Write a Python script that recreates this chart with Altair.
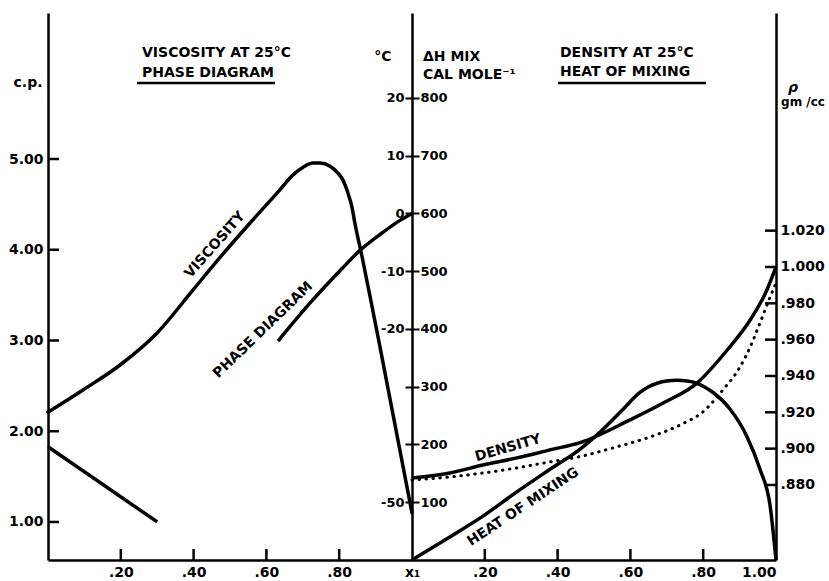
import altair as alt
import pandas as pd

# ---------------- data (mole fraction x1 on every curve) ----------------
# Viscosity at 25 °C, centipoise
visc_x = [0.0, 0.096, 0.198, 0.299, 0.398, 0.464, 0.555, 0.637, 0.673, 0.701,
          0.728, 0.747, 0.775, 0.794, 0.810, 0.824, 0.835, 0.843, 0.863, 0.885,
          0.912, 1.0]
visc_cp = [2.21, 2.455, 2.73, 3.08, 3.555, 3.875, 4.295, 4.66, 4.825, 4.91,
           4.955, 4.955, 4.92, 4.855, 4.77, 4.625, 4.47, 4.295, 3.92, 3.48,
           2.93, 1.10]

# Phase diagram, freezing temperature in °C (two branches)
phase_hi_x = [0.632, 0.72, 0.81, 0.857, 0.912, 0.967, 1.0]
phase_hi_t = [-22.1, -15.5, -9.4, -6.4, -3.65, -1.2, 0.0]
phase_lo_x = [0.0, 0.30]
phase_lo_t = [-40.4, -53.4]

# Density at 25 °C, gm/cc (measured, and dotted reference curve)
dens_x = [0.0, 0.104, 0.195, 0.288, 0.379, 0.462, 0.599, 0.690, 0.783, 0.866,
          0.929, 0.975, 1.0]
dens_rho = [0.8839, 0.8866, 0.8910, 0.8949, 0.8993, 0.9033, 0.9158, 0.9251,
            0.9361, 0.9543, 0.9708, 0.9873, 1.000]
ideal_x = [0.0, 0.104, 0.195, 0.288, 0.379, 0.470, 0.552, 0.646, 0.736, 0.799,
           0.854, 0.901, 0.929, 0.956, 0.984, 1.0]
ideal_rho = [0.8828, 0.8844, 0.8866, 0.8894, 0.8927, 0.8960, 0.9004, 0.9059,
             0.9130, 0.9202, 0.9323, 0.9449, 0.9559, 0.9692, 0.9835, 0.9912]

# Heat of mixing, cal mole^-1
hmix_x = [0.0, 0.104, 0.195, 0.288, 0.379, 0.462, 0.516, 0.580, 0.626, 0.650,
          0.673, 0.700, 0.728, 0.756, 0.783, 0.805, 0.827, 0.874, 0.920, 0.956,
          0.984, 1.0]
hmix_cal = [0, 40, 76, 118, 157, 192, 221, 261, 290, 300, 306, 310, 311, 310,
            306, 299, 290, 261, 214, 157, 93, 0]

# axis tick values
visc_ticks = [1.0, 2.0, 3.0, 4.0, 5.0]
hmix_ticks = [800, 700, 600, 500, 400, 300, 200, 100]
rho_ticks = [0.88, 0.90, 0.92, 0.94, 0.96, 0.98, 1.00, 1.02]
x_label_ticks = [0.2, 0.4, 0.6, 0.8, 1.0, 1.2, 1.4, 1.6, 1.8, 2.0]
x_inner_ticks = [0.2, 0.4, 0.6, 0.8, 1.2, 1.4, 1.6, 1.8]

# ---------------- layout ----------------
W, H = 728, 547
FONT = "DejaVu Sans"
LW = 3.5

xs = alt.Scale(domain=[0, 2], nice=False, zero=False)
v_scale = alt.Scale(domain=[0.581, 6.609], nice=False, zero=False)
h_scale = alt.Scale(domain=[0, 947], nice=False, zero=False)
r_scale = alt.Scale(domain=[0.8387, 1.1398], nice=False, zero=False)

x_axis = alt.Axis(
    orient="bottom", values=x_label_ticks,
    labelExpr=("datum.value == 1 ? 'x\u2081' : datum.value == 2 ? '1.00' : "
               "replace(format(datum.value > 1 ? datum.value - 1 : datum.value, '.2f'), '0.', '.')"),
    ticks=False, domainWidth=2.5, labelPadding=5, title=None,
)

def left_panel(df):
    return alt.Chart(df).transform_calculate(pos="datum.x")

def right_panel(df):
    return alt.Chart(df).transform_calculate(pos="1 + datum.x")

# ---- viscosity (c.p.) ----
visc_df = pd.DataFrame({"x": visc_x, "v": visc_cp})
visc_line = left_panel(visc_df).mark_line(
    color="black", strokeWidth=LW, interpolate="monotone", strokeCap="round"
).encode(
    x=alt.X("pos:Q", scale=xs, axis=x_axis),
    y=alt.Y("v:Q", scale=v_scale, axis=alt.Axis(
        orient="left", values=visc_ticks, format=".2f", ticks=False,
        domainWidth=2.5, labelPadding=5, title=None)),
)
visc_tick_marks = alt.Chart(pd.DataFrame({"v": visc_ticks})).mark_rule(
    color="black", strokeWidth=2.5
).encode(
    y=alt.Y("v:Q", scale=v_scale, axis=None),
    x=alt.value(0), x2=alt.value(11),
)
visc_group = alt.layer(visc_line, visc_tick_marks).resolve_scale(
    y="shared").resolve_axis(x="independent", y="independent")

# ---- phase diagram (°C) and heat of mixing share one vertical scale ----
# 0 °C sits on 600 cal, 10 °C per 100 cal
phase_hi_df = pd.DataFrame({"x": phase_hi_x, "t": phase_hi_t})
phase_lo_df = pd.DataFrame({"x": phase_lo_x, "t": phase_lo_t})
hmix_df = pd.DataFrame({"x": hmix_x, "cal": hmix_cal})

celsius_axis = alt.Axis(
    orient="left", offset=-364, values=hmix_ticks,
    labelExpr="datum.value == 300 || datum.value == 200 ? '' : '' + (datum.value - 600) / 10",
    tickSize=7, tickWidth=2, domainWidth=2.5, labelPadding=1, labelFontSize=13, title=None,
)
hmix_axis = alt.Axis(
    orient="right", offset=-364, values=hmix_ticks, format="d",
    tickSize=7, tickWidth=2, domain=False, labelPadding=1, labelFontSize=13, title=None,
)

phase_hi = left_panel(phase_hi_df).transform_calculate(h="600 + 10 * datum.t").mark_line(
    color="black", strokeWidth=LW, interpolate="monotone"
).encode(
    x=alt.X("pos:Q", scale=xs, axis=None),
    y=alt.Y("h:Q", scale=h_scale, axis=celsius_axis),
)
phase_lo = left_panel(phase_lo_df).transform_calculate(h="600 + 10 * datum.t").mark_line(
    color="black", strokeWidth=LW
).encode(
    x=alt.X("pos:Q", scale=xs, axis=None),
    y=alt.Y("h:Q", scale=h_scale, axis=None),
)
hmix_line = right_panel(hmix_df).mark_line(
    color="black", strokeWidth=LW, interpolate="monotone"
).encode(
    x=alt.X("pos:Q", scale=xs, axis=None),
    y=alt.Y("cal:Q", scale=h_scale, axis=hmix_axis),
)
heat_group = alt.layer(phase_hi, phase_lo, hmix_line).resolve_scale(
    y="shared").resolve_axis(y="independent")

# ---- density (gm/cc) ----
dens_df = pd.DataFrame({"x": dens_x, "rho": dens_rho})
ideal_df = pd.DataFrame({"x": ideal_x, "rho": ideal_rho})

rho_axis = alt.Axis(
    orient="right", values=rho_ticks,
    labelExpr=("datum.value < 0.999 ? replace(format(datum.value, '.3f'), '0.', '.') "
               ": format(datum.value, '.3f')"),
    ticks=False, domainWidth=2.5, labelPadding=4, title=None,
)
dens_line = right_panel(dens_df).mark_line(
    color="black", strokeWidth=LW, interpolate="monotone"
).encode(
    x=alt.X("pos:Q", scale=xs, axis=None),
    y=alt.Y("rho:Q", scale=r_scale, axis=rho_axis),
)
ideal_line = right_panel(ideal_df).mark_line(
    color="black", strokeWidth=3, interpolate="monotone",
    strokeDash=[0.5, 6.5], strokeCap="round"
).encode(
    x=alt.X("pos:Q", scale=xs, axis=None),
    y=alt.Y("rho:Q", scale=r_scale, axis=None),
)
rho_tick_marks = alt.Chart(pd.DataFrame({"rho": rho_ticks})).mark_rule(
    color="black", strokeWidth=2.5
).encode(
    y=alt.Y("rho:Q", scale=r_scale, axis=None),
    x=alt.value(W - 11), x2=alt.value(W),
)
dens_group = alt.layer(dens_line, ideal_line, rho_tick_marks).resolve_scale(
    y="shared").resolve_axis(y="independent")

# ---- inward ticks on the composition axis ----
x_tick_marks = alt.Chart(pd.DataFrame({"pos": x_inner_ticks})).mark_rule(
    color="black", strokeWidth=2.5
).encode(
    x=alt.X("pos:Q", scale=xs, axis=None),
    y=alt.value(H - 11), y2=alt.value(H),
)

# ---- lettering ----
def note(text, px, py, size=14, angle=0, align="center", style="normal"):
    return alt.Chart(alt.Data(values=[{}])).mark_text(
        text=text, font=FONT, fontSize=size, fontWeight="bold", fontStyle=style,
        angle=angle, align=align, baseline="middle", color="black",
    ).encode(x=alt.value(px), y=alt.value(py))

def underline(x0, x1, py):
    return alt.Chart(alt.Data(values=[{}])).mark_rule(
        color="black", strokeWidth=2.5
    ).encode(x=alt.value(x0), x2=alt.value(x1), y=alt.value(py))

notes = [
    note("VISCOSITY AT 25\u00b0C", 94, 40, align="left"),
    note("PHASE DIAGRAM", 94, 60, align="left"),
    underline(89, 227, 70),
    note("c.p.", -20, 70),
    note("\u00b0C", 335, 44),
    note("\u0394H MIX", 375, 44, align="left"),
    note("CAL MOLE\u207b\u00b9", 375, 62, align="left"),
    note("DENSITY AT 25\u00b0C", 512, 40, align="left"),
    note("HEAT OF MIXING", 512, 59, align="left"),
    underline(510, 658, 70),
    note("\u03c1", 745, 75, style="italic"),
    note("gm /cc", 755, 89, size=12),
    note("VISCOSITY", 167, 232, angle=311.5),
    note("PHASE DIAGRAM", 215, 317, angle=316),
    note("DENSITY", 460, 435, angle=344),
    note("HEAT OF MIXING", 475, 494, angle=326.5),
]

chart = alt.layer(
    visc_group, heat_group, dens_group, x_tick_marks, *notes
).resolve_scale(y="independent").resolve_axis(x="independent", y="independent").properties(
    width=W, height=H,
    autosize=alt.AutoSizeParams(type="none"),
    padding={"left": 48, "top": 13, "right": 53, "bottom": 21},
    background="white",
).configure_view(stroke=None).configure_axis(
    labelFont=FONT, labelFontWeight="bold", labelFontSize=14, labelColor="black",
    domainColor="black", tickColor="black", grid=False,
)

chart.save("out.html", embed_options={"renderer": "svg", "actions": False})
